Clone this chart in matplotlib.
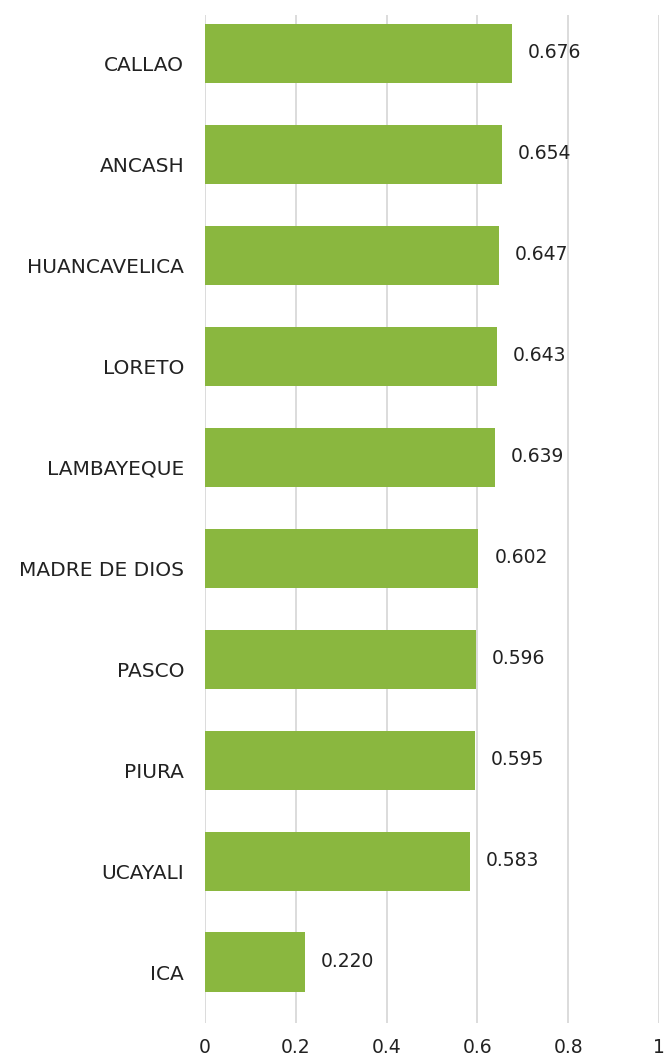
import matplotlib
matplotlib.use("Agg")
import matplotlib.pyplot as plt
import matplotlib.transforms as mtransforms

regions = ["CALLAO", "ANCASH", "HUANCAVELICA", "LORETO", "LAMBAYEQUE",
           "MADRE DE DIOS", "PASCO", "PIURA", "UCAYALI", "ICA"]
values = [0.676, 0.654, 0.647, 0.643, 0.639, 0.602, 0.596, 0.595, 0.583, 0.220]
xticks = [0, 0.2, 0.4, 0.6, 0.8, 1]
xtick_labels = ["0", "0.2", "0.4", "0.6", "0.8", "1"]

plt.rcParams["font.family"] = ["DejaVu Sans"]
text_color = "#222222"

fig = plt.figure(figsize=(6.67, 10.59), dpi=100)
ax = fig.add_axes([205 / 667, 36 / 1059, 454 / 667, 1008 / 1059])

ypos = list(range(len(regions)))
ax.barh(ypos, values, height=0.585, color="#8AB73F", zorder=3)
# the gridlines run a bit lower than the bars in the reference
ax.set_ylim(9.604, -0.381)
ax.set_xlim(0, 1)

ax.set_xticks(xticks)
ax.set_xticklabels(xtick_labels, fontsize=13.5, color=text_color)
ax.set_yticks(ypos)
ax.set_yticklabels(regions, fontsize=14.5, color=text_color)
ax.tick_params(axis="x", length=0, pad=11)
ax.tick_params(axis="y", length=0, pad=15)

# category labels sit a little below the bar centres
shift = mtransforms.ScaledTranslation(0, -10 / 100, fig.dpi_scale_trans)
for lbl in ax.get_yticklabels():
    lbl.set_transform(lbl.get_transform() + shift)

ax.grid(axis="x", color="#D9D9D9", linewidth=1.3, zorder=0)
ax.grid(axis="y", visible=False)
for s in ax.spines.values():
    s.set_visible(False)

for y, v in zip(ypos, values):
    ax.annotate(f"{v:.3f}", xy=(v, y), xytext=(16, 1), textcoords="offset pixels",
                va="center", ha="left", fontsize=13.5, color=text_color)

fig.savefig("out.png", dpi=100)
